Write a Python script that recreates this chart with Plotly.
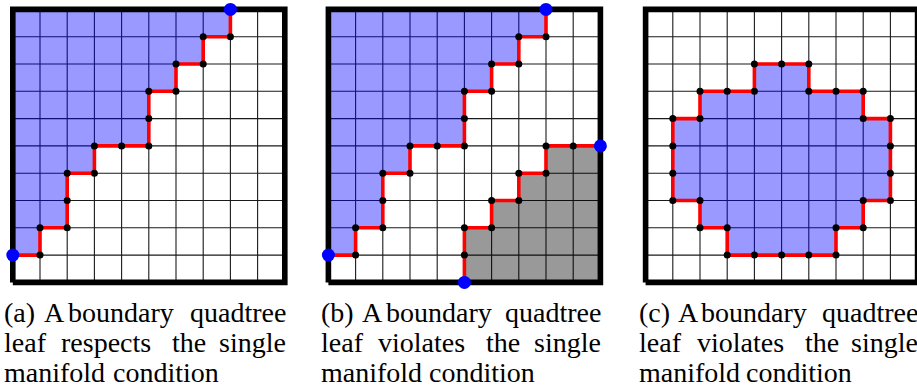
import plotly.graph_objects as go

# ---------------- data (grid units, 10x10 cells, y up) ----------------
N = 10
# panel (a): boundary path (open), blue region above-left
a_path_x = [0, 1, 1, 2, 2, 2, 3, 3, 4, 5, 5, 5, 6, 6, 7, 7, 8, 8]
a_path_y = [1, 1, 2, 2, 3, 4, 4, 5, 5, 5, 6, 7, 7, 8, 8, 9, 9, 10]
# panel (b): same blue path plus a grey region path
b_path_x = [0, 1, 1, 2, 2, 2, 3, 3, 4, 5, 5, 5, 6, 6, 7, 7, 8, 8]
b_path_y = [1, 1, 2, 2, 3, 4, 4, 5, 5, 5, 6, 7, 7, 8, 8, 9, 9, 10]
b_grey_x = [5, 5, 5, 6, 6, 7, 7, 8, 8, 9, 10]
b_grey_y = [0, 1, 2, 2, 3, 3, 4, 4, 5, 5, 5]
# panel (c): closed boundary loop
c_loop_x = [4, 5, 6, 6, 7, 8, 8, 9, 9, 9, 9, 8, 8, 7, 7, 6, 5, 4, 3, 3, 2, 2, 1, 1, 1, 1, 2, 2, 3, 4, 4]
c_loop_y = [8, 8, 8, 7, 7, 7, 6, 6, 5, 4, 3, 3, 2, 2, 1, 1, 1, 1, 1, 2, 2, 3, 3, 4, 5, 6, 6, 7, 7, 7, 8]

captions = [
    [["(a)", "A", "boundary", "quadtree"], ["leaf", "respects", "the", "single"], ["manifold", "condition"]],
    [["(b)", "A", "boundary", "quadtree"], ["leaf", "violates", "the", "single"], ["manifold", "condition"]],
    [["(c)", "A", "boundary", "quadtree"], ["leaf", "violates", "the", "single"], ["manifold", "condition"]],
]

# ---------------- styles / layout geometry (pixels) ----------------
W, H = 917, 392
CELL_X = 27.2
CELL_Y = 27.3
GRID_X0 = [12.8, 328.4, 645.6]     # pixel x of grid x=0
GRID_Y0 = 282.4                    # pixel y of grid y=0
DOM_L = [0, 316, 633]
DOM_R = [300, 616, 917]
DOM_TOP, DOM_BOT = 0, 296

BLUE_FILL = "rgba(0,0,255,0.4)"
GREY_FILL = "rgba(0,0,0,0.4)"
RED = "#ff0000"
DOT_BLUE = "#0000ff"

fig = go.Figure()


def ax(i, letter):
    return letter if i == 0 else f"{letter}{i+1}"


for i in range(3):
    xa, ya = ax(i, "x"), ax(i, "y")
    # grid lines
    gx, gy = [], []
    for k in range(1, N):
        gx += [k, k, None]
        gy += [0, N, None]
        gx += [0, N, None]
        gy += [k, k, None]
    fig.add_trace(go.Scatter(x=gx, y=gy, mode="lines", xaxis=xa, yaxis=ya,
                             line=dict(color="#1a1a1a", width=1.1), hoverinfo="skip"))


def fill_poly(i, xs, ys, color):
    fig.add_trace(go.Scatter(x=xs, y=ys, mode="lines", fill="toself", fillcolor=color,
                             line=dict(width=0, color="rgba(0,0,0,0)"),
                             xaxis=ax(i, "x"), yaxis=ax(i, "y"), hoverinfo="skip"))


# fills
fill_poly(0, a_path_x + [0], a_path_y + [N], BLUE_FILL)
fill_poly(1, b_path_x + [0], b_path_y + [N], BLUE_FILL)
fill_poly(1, b_grey_x + [N], b_grey_y + [0], GREY_FILL)
fill_poly(2, c_loop_x, c_loop_y, BLUE_FILL)

# borders
for i in range(3):
    fig.add_trace(go.Scatter(x=[0, N, N, 0, 0], y=[0, 0, N, N, 0], mode="lines",
                             line=dict(color="black", width=5.6),
                             xaxis=ax(i, "x"), yaxis=ax(i, "y"), hoverinfo="skip"))


def path(i, xs, ys, closed=False):
    fig.add_trace(go.Scatter(x=xs, y=ys, mode="lines", line=dict(color=RED, width=3.6),
                             xaxis=ax(i, "x"), yaxis=ax(i, "y"), hoverinfo="skip"))
    if closed:
        ix, iy, ex, ey = xs[:-1], ys[:-1], [], []
    else:
        ix, iy = xs[1:-1], ys[1:-1]
        ex, ey = [xs[0], xs[-1]], [ys[0], ys[-1]]
    fig.add_trace(go.Scatter(x=ix, y=iy, mode="markers", cliponaxis=False,
                             marker=dict(color="black", size=7, line=dict(width=0)),
                             xaxis=ax(i, "x"), yaxis=ax(i, "y"), hoverinfo="skip"))
    if ex:
        fig.add_trace(go.Scatter(x=ex, y=ey, mode="markers", cliponaxis=False,
                                 marker=dict(color=DOT_BLUE, size=13, line=dict(width=0)),
                                 xaxis=ax(i, "x"), yaxis=ax(i, "y"), hoverinfo="skip"))


path(0, a_path_x, a_path_y)
path(1, b_path_x, b_path_y)
path(1, b_grey_x, b_grey_y)
path(2, c_loop_x, c_loop_y, closed=True)

# axes
layout_axes = {}
for i in range(3):
    xr = [(DOM_L[i] - GRID_X0[i]) / CELL_X, (DOM_R[i] - GRID_X0[i]) / CELL_X]
    yr = [(GRID_Y0 - DOM_BOT) / CELL_Y, (GRID_Y0 - DOM_TOP) / CELL_Y]
    xkey = "xaxis" if i == 0 else f"xaxis{i+1}"
    ykey = "yaxis" if i == 0 else f"yaxis{i+1}"
    layout_axes[xkey] = dict(domain=[DOM_L[i] / W, DOM_R[i] / W], range=xr, visible=False,
                             anchor=ax(i, "y"), fixedrange=True)
    layout_axes[ykey] = dict(domain=[(H - DOM_BOT) / H, (H - DOM_TOP) / H], range=yr,
                             visible=False, anchor=ax(i, "x"), fixedrange=True)

# captions: words placed to reproduce justified lines (pixel offsets from caption left)
TEXT_LEFT = [3, 320, 638]
WORD_SPANS = [
    [[(0, 34), (40, 62), (67, 170), (182, 284)],
     [(0, 47), (57, 149), (167, 204), (220, 284)],
     [(0, 100), (109, 217)]],
    [[(0, 37), (42, 63), (67, 170), (182, 282)],
     [(0, 47), (58, 145), (165, 200), (220, 282)],
     [(0, 100), (108, 215)]],
    [[(0, 35), (40, 60), (65, 167), (179, 281)],
     [(0, 45), (59, 145), (167, 200), (219, 281)],
     [(0, 99), (107, 214)]],
]
LINE_MID = [312, 342.5, 372]
annotations = []
for p in range(3):
    for li, words in enumerate(captions[p]):
        spans = WORD_SPANS[p][li]
        for wi, w in enumerate(words):
            s, e = spans[wi]
            if wi == 0:
                xpix, anchor = TEXT_LEFT[p] + s, "left"
            elif wi == len(words) - 1 and li < 2:
                xpix, anchor = TEXT_LEFT[p] + e, "right"
            elif wi == len(words) - 1:
                xpix, anchor = TEXT_LEFT[p] + s, "left"
            else:
                xpix, anchor = TEXT_LEFT[p] + (s + e) / 2, "center"
            annotations.append(dict(x=xpix / W, y=(H - LINE_MID[li]) / H, xref="paper", yref="paper",
                                    text=w, showarrow=False, xanchor=anchor, yanchor="middle",
                                    font=dict(family="Liberation Serif", size=28, color="black"),
                                    borderpad=0))

fig.update_layout(width=W, height=H, margin=dict(l=0, r=0, t=0, b=0),
                  paper_bgcolor="white", plot_bgcolor="rgba(0,0,0,0)",
                  showlegend=False, annotations=annotations, **layout_axes)

fig.write_html("out.html", config={"displayModeBar": False, "staticPlot": True},
               post_script="document.body.style.margin='0px';document.body.style.overflow='hidden';")
